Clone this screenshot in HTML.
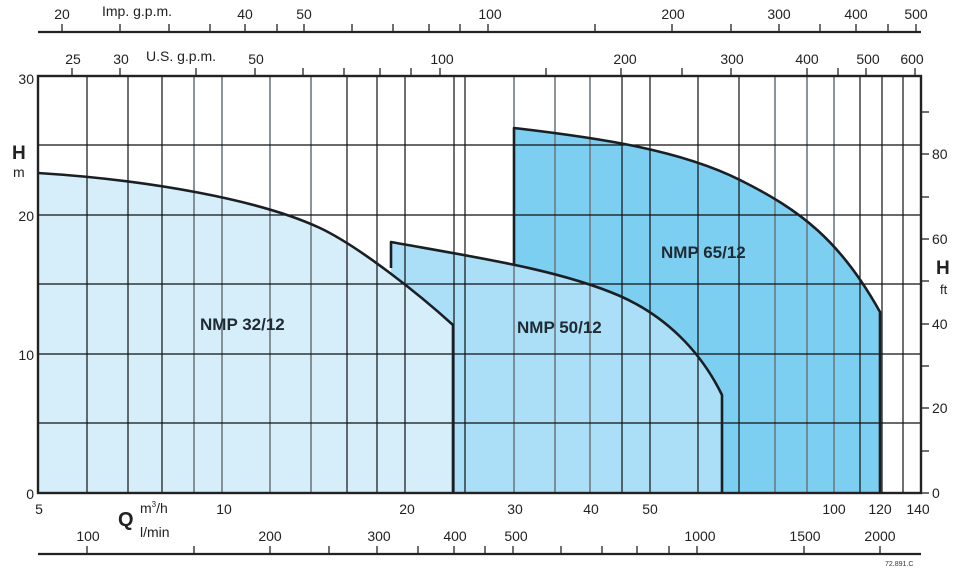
<!DOCTYPE html>
<html><head><meta charset="utf-8"><style>
html,body{margin:0;padding:0;background:#fff;}
svg{display:block;font-family:"Liberation Sans",sans-serif;}
</style></head><body>
<svg width="971" height="570" viewBox="0 0 971 570" xmlns="http://www.w3.org/2000/svg">
<!-- fills -->
<path d="M514,128 C600,138 680,150 740,180 S840,240 880,312 L880,493 L514,493 Z" fill="#7dcff2"/>
<path d="M391,242 C480,258 560,270 620,296 C665,316 700,350 722,395 L722,493 L391,493 Z" fill="#aadff7"/>
<path d="M38,173 C150,180 260,200 320,228 C360,247 420,295 453,325 L453,493 L38,493 Z" fill="#d5eefa"/>
<!-- vertical grid -->
<g stroke="#111" stroke-width="1.2">
<line x1="87" y1="76" x2="87" y2="493"/><line x1="128" y1="76" x2="128" y2="493"/><line x1="162" y1="76" x2="162" y2="493"/>
<line x1="347" y1="76" x2="347" y2="493"/><line x1="377" y1="76" x2="377" y2="493"/><line x1="405" y1="76" x2="405" y2="493"/>
<line x1="454" y1="76" x2="454" y2="493"/><line x1="465" y1="76" x2="465" y2="493"/>
<line x1="622" y1="76" x2="622" y2="493"/><line x1="650" y1="76" x2="650" y2="493"/><line x1="698" y1="76" x2="698" y2="493"/>
<line x1="739" y1="76" x2="739" y2="493"/><line x1="860" y1="76" x2="860" y2="493"/><line x1="882" y1="76" x2="882" y2="493"/><line x1="903" y1="76" x2="903" y2="493"/>
</g>
<g stroke="#6f7a80" stroke-width="1.6">
<line x1="194" y1="76" x2="194" y2="493"/><line x1="222" y1="76" x2="222" y2="493"/><line x1="270" y1="76" x2="270" y2="493"/><line x1="311" y1="76" x2="311" y2="493"/>
<line x1="514" y1="76" x2="514" y2="493"/><line x1="555" y1="76" x2="555" y2="493"/><line x1="590" y1="76" x2="590" y2="493"/>
<line x1="775" y1="76" x2="775" y2="493"/><line x1="807" y1="76" x2="807" y2="493"/><line x1="834" y1="76" x2="834" y2="493"/>
</g>
<!-- horizontal grid -->
<g stroke="#111" stroke-width="1.2">
<line x1="38" y1="145" x2="921" y2="145"/><line x1="38" y1="215" x2="921" y2="215"/><line x1="38" y1="284" x2="921" y2="284"/>
<line x1="38" y1="354" x2="921" y2="354"/><line x1="38" y1="423" x2="921" y2="423"/>
</g>
<!-- curves -->
<g fill="none" stroke="#1a1f24" stroke-width="2.6" stroke-linejoin="round">
<path d="M514,264 L514,128 C600,138 680,150 740,180 S840,240 880,312 L880,493"/>
<path d="M391,268 L391,242 C480,258 560,270 620,296 C665,316 700,350 722,395 L722,493"/>
<path d="M38,173 C150,180 260,200 320,228 C360,247 420,295 453,325 L453,493"/>
</g>
<!-- frame -->
<rect x="38" y="76" width="883" height="417" fill="none" stroke="#222" stroke-width="2.4"/>
<!-- labels in plot -->
<g font-weight="bold" font-size="17" fill="#1f2a33">
<text x="200" y="330">NMP 32/12</text>
<text x="517" y="333">NMP 50/12</text>
<text x="661" y="258">NMP 65/12</text>
</g>
<!-- left axis -->
<g font-size="14" fill="#222" text-anchor="end">
<text x="34" y="84">30</text><text x="34" y="221">20</text><text x="34" y="360">10</text><text x="34" y="499">0</text>
</g>
<text x="12" y="159" font-size="19" font-weight="bold" fill="#222">H</text>
<text x="13" y="177" font-size="14" fill="#222">m</text>
<!-- right axis -->
<g stroke="#222" stroke-width="1.3">
<line x1="921" y1="493" x2="929" y2="493"/><line x1="921" y1="451" x2="929" y2="451"/><line x1="921" y1="408" x2="929" y2="408"/>
<line x1="921" y1="366" x2="929" y2="366"/><line x1="921" y1="324" x2="929" y2="324"/><line x1="921" y1="281" x2="929" y2="281"/>
<line x1="921" y1="239" x2="929" y2="239"/><line x1="921" y1="197" x2="929" y2="197"/><line x1="921" y1="154" x2="929" y2="154"/><line x1="921" y1="112" x2="929" y2="112"/>
</g>
<g font-size="14" fill="#222">
<text x="932" y="498">0</text><text x="932" y="413">20</text><text x="932" y="329">40</text><text x="932" y="244">60</text><text x="932" y="159">80</text>
</g>
<text x="936" y="274" font-size="19" font-weight="bold" fill="#222">H</text>
<text x="940" y="294" font-size="13" fill="#222">ft</text>
<!-- top Imp axis -->
<line x1="38" y1="32" x2="921" y2="32" stroke="#222" stroke-width="2.2"/>
<g stroke="#222" stroke-width="1.3">
<line x1="62" y1="32" x2="62" y2="24"/><line x1="120" y1="32" x2="120" y2="24"/><line x1="169" y1="32" x2="169" y2="24"/><line x1="210" y1="32" x2="210" y2="24"/>
<line x1="245" y1="32" x2="245" y2="24"/><line x1="277" y1="32" x2="277" y2="24"/><line x1="304" y1="32" x2="304" y2="24"/><line x1="352" y1="32" x2="352" y2="24"/>
<line x1="393" y1="32" x2="393" y2="24"/><line x1="429" y1="32" x2="429" y2="24"/><line x1="460" y1="32" x2="460" y2="24"/><line x1="488" y1="32" x2="488" y2="24"/>
<line x1="595" y1="32" x2="595" y2="24"/><line x1="672" y1="32" x2="672" y2="24"/><line x1="731" y1="32" x2="731" y2="24"/><line x1="779" y1="32" x2="779" y2="24"/>
<line x1="820" y1="32" x2="820" y2="24"/><line x1="856" y1="32" x2="856" y2="24"/><line x1="888" y1="32" x2="888" y2="24"/><line x1="916" y1="32" x2="916" y2="24"/>
</g>
<g font-size="14" fill="#222" text-anchor="middle">
<text x="62" y="19">20</text><text x="245" y="19">40</text><text x="304" y="19">50</text><text x="490" y="19">100</text>
<text x="673" y="19">200</text><text x="779" y="19">300</text><text x="856" y="19">400</text><text x="916" y="19">500</text>
</g>
<text x="102" y="16" font-size="14" fill="#222">Imp. g.p.m.</text>
<!-- US gpm ticks -->
<g stroke="#222" stroke-width="1.3">
<line x1="72" y1="76" x2="72" y2="68"/><line x1="120" y1="76" x2="120" y2="68"/><line x1="196" y1="76" x2="196" y2="68"/><line x1="255" y1="76" x2="255" y2="68"/>
<line x1="303" y1="76" x2="303" y2="68"/><line x1="344" y1="76" x2="344" y2="68"/><line x1="380" y1="76" x2="380" y2="68"/><line x1="411" y1="76" x2="411" y2="68"/>
<line x1="440" y1="76" x2="440" y2="68"/><line x1="546" y1="76" x2="546" y2="68"/><line x1="621" y1="76" x2="621" y2="68"/><line x1="682" y1="76" x2="682" y2="68"/>
<line x1="731" y1="76" x2="731" y2="68"/><line x1="807" y1="76" x2="807" y2="68"/><line x1="838" y1="76" x2="838" y2="68"/><line x1="866" y1="76" x2="866" y2="68"/><line x1="915" y1="76" x2="915" y2="68"/>
</g>
<g font-size="14" fill="#222" text-anchor="middle">
<text x="73" y="64">25</text><text x="121" y="64">30</text><text x="256" y="64">50</text><text x="442" y="64">100</text>
<text x="625" y="64">200</text><text x="732" y="64">300</text><text x="807" y="64">400</text><text x="868" y="64">500</text><text x="912" y="64">600</text>
</g>
<text x="146" y="61" font-size="14" fill="#222">U.S. g.p.m.</text>
<!-- bottom m3/h -->
<g font-size="14" fill="#222" text-anchor="middle">
<text x="39" y="514">5</text><text x="224" y="514">10</text><text x="407" y="514">20</text><text x="515" y="514">30</text>
<text x="591" y="514">40</text><text x="650" y="514">50</text><text x="834" y="514">100</text><text x="880" y="514">120</text><text x="918" y="514">140</text>
</g>
<text x="118" y="526" font-size="20" font-weight="bold" fill="#222">Q</text>
<text x="140" y="513" font-size="14" fill="#222">m<tspan font-size="8" dy="-6">3</tspan><tspan dy="6">/h</tspan></text>
<text x="140" y="537" font-size="14" fill="#222">l/min</text>
<!-- l/min axis -->
<line x1="38" y1="554" x2="921" y2="554" stroke="#222" stroke-width="2.2"/>
<g stroke="#222" stroke-width="1.3">
<line x1="87" y1="554" x2="87" y2="546"/><line x1="194" y1="554" x2="194" y2="546"/><line x1="270" y1="554" x2="270" y2="546"/><line x1="329" y1="554" x2="329" y2="546"/>
<line x1="377" y1="554" x2="377" y2="546"/><line x1="418" y1="554" x2="418" y2="546"/><line x1="454" y1="554" x2="454" y2="546"/><line x1="485" y1="554" x2="485" y2="546"/>
<line x1="513" y1="554" x2="513" y2="546"/><line x1="561" y1="554" x2="561" y2="546"/><line x1="602" y1="554" x2="602" y2="546"/><line x1="637" y1="554" x2="637" y2="546"/>
<line x1="669" y1="554" x2="669" y2="546"/><line x1="697" y1="554" x2="697" y2="546"/><line x1="804" y1="554" x2="804" y2="546"/><line x1="880" y1="554" x2="880" y2="546"/>
</g>
<g font-size="14" fill="#222" text-anchor="middle">
<text x="88" y="541">100</text><text x="270" y="541">200</text><text x="379" y="541">300</text><text x="455" y="541">400</text>
<text x="516" y="541">500</text><text x="700" y="541">1000</text><text x="805" y="541">1500</text><text x="880" y="541">2000</text>
</g>
<text x="885" y="566" font-size="7" fill="#333">72.891.C</text>
</svg>
</body></html>
